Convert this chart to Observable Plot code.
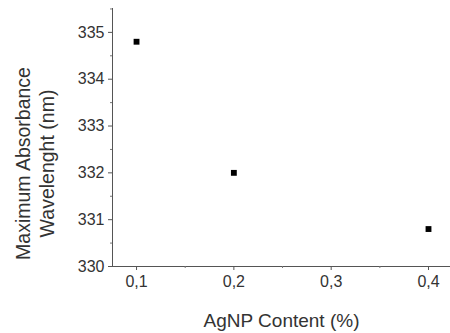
<!DOCTYPE html>
<html>
<head>
<meta charset="utf-8">
<script src="https://cdn.jsdelivr.net/npm/d3@7"></script>
<script src="https://cdn.jsdelivr.net/npm/@observablehq/plot@0.6"></script>
<style>
  html, body { margin: 0; padding: 0; background: #fff; }
  #chart svg { display: block; }
</style>
</head>
<body>
<div id="chart"></div>
<script>
const agnp = [0.1, 0.2, 0.4];
const wavelength = [334.8, 332.0, 330.8];
const xTicks = [0.1, 0.2, 0.3, 0.4];
const xMinor = [0.15, 0.25, 0.35];
const yTicks = [330, 331, 332, 333, 334, 335];
const yMinor = [330.5, 331.5, 332.5, 333.5, 334.5, 335.5];
const xLabel = "AgNP Content (%)";
const yLabel = "Maximum Absorbance\nWavelenght (nm)";

const data = agnp.map((x, i) => ({x, y: wavelength[i]}));
const comma = d => d3.format(".1f")(d).replace(".", ",");

const plot = Plot.plot({
  width: 450,
  height: 333,
  marginLeft: 112,
  marginTop: 8,
  marginBottom: 67,
  marginRight: 0,
  style: {fontFamily: "Liberation Sans, Arial, sans-serif", background: "#fff"},
  x: {domain: [0.0753, 0.4226]},
  y: {domain: [330, 335.51]},
  marks: [
    Plot.frame({anchor: "left", stroke: "#555"}),
    Plot.frame({anchor: "bottom", stroke: "#555"}),
    Plot.axisX({ticks: xTicks, tickFormat: comma, tickSize: 4, tickPadding: 5, fontSize: 16, color: "#333", stroke: "#555", label: null}),
    Plot.axisX({ticks: xMinor, tickSize: 2, text: null, stroke: "#777", label: null}),
    Plot.axisY({ticks: yTicks, tickFormat: d => String(d), tickSize: 4, tickPadding: 4, fontSize: 16, color: "#333", stroke: "#555", label: null}),
    Plot.axisY({ticks: yMinor.filter(v => v <= 335.5), tickSize: 2, text: null, stroke: "#777", label: null}),
    Plot.dot(data, {x: "x", y: "y", symbol: "square", r: 3.3, fill: "#000", stroke: "none"}),
    Plot.text([xLabel], {frameAnchor: "bottom", text: d => d, dy: 54, fontSize: 19, fill: "#333", lineAnchor: "middle", textAnchor: "middle"}),
    Plot.text([yLabel], {frameAnchor: "left", text: d => d, dx: -78, dy: 26, rotate: -90, fontSize: 19.5, fill: "#333", lineAnchor: "middle", textAnchor: "middle", lineHeight: 1.2})
  ]
});
document.getElementById("chart").appendChild(plot);
</script>
</body>
</html>
